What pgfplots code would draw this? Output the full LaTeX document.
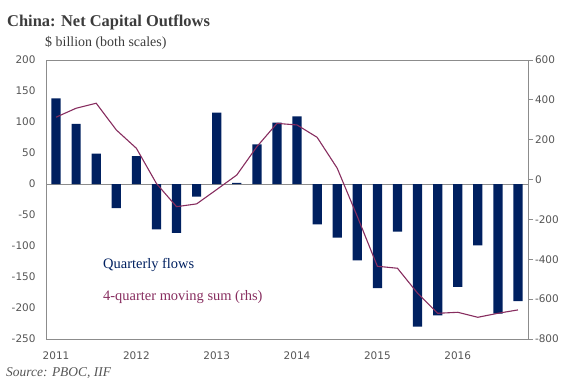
\documentclass[border=0pt]{standalone}
\usepackage{pgfplots}
\pgfplotsset{compat=1.18}
\usepackage{fontspec}
\setmainfont{Liberation Serif}
\newfontfamily\tickfont{DejaVu Sans}
\definecolor{navy}{RGB}{0,32,96}
\definecolor{plum}{RGB}{135,45,95}
\definecolor{axisgray}{RGB}{140,140,140}
\definecolor{ticktext}{RGB}{85,85,85}
\definecolor{titlegray}{RGB}{60,60,60}

\pgfplotstableread{
x y
0 138
1 97
2 49
3 -39
4 45
5 -73
6 -79
7 -20.5
8 115
9 2
10 64
11 99
12 109
13 -65
14 -86.5
15 -123
16 -168
17 -77
18 -230
19 -212
20 -166
21 -99
22 -209
23 -189
}\flows

\pgfplotstableread{
x y
0 313
1 358
2 383
3 249
4 157
5 -20
6 -136
7 -122
8 -50
9 23
10 165
11 282
12 274
13 212
14 57
15 -185
16 -435
17 -445
18 -570
19 -671
20 -666
21 -691
22 -671
23 -654
}\movsum

\begin{document}
\begin{tikzpicture}[x=1bp,y=1bp]
\useasboundingbox (0,0) rectangle (571,382);
\begin{axis}[
  at={(46bp,43bp)}, anchor=south west, scale only axis,
  width=482bp, height=279bp,
  xmin=-0.5, xmax=23.5, ymin=-250, ymax=200,
  ytick={-250,-200,...,200},
  xtick={0,4,8,12,16,20}, xticklabels={2011,2012,2013,2014,2015,2016},
  xtick pos=bottom, ytick pos=left,
  major tick length=0pt,
  axis line style={axisgray, line width=0.8bp},
  tick label style={font=\tickfont\fontsize{10.5}{12}\selectfont, text=ticktext},
  /pgf/number format/assume math mode=true,
  yticklabel style={anchor=east, xshift=-7bp},
  xticklabel style={anchor=north, yshift=-9bp},
  clip=false,
]
\addplot[axisgray, line width=0.8bp, forget plot] coordinates {(-0.5,0) (23.5,0)};
\addplot[ybar, bar width=0.46, fill=navy, draw=none] table[x=x,y=y] {\flows};
\end{axis}
\begin{axis}[
  at={(46bp,43bp)}, anchor=south west, scale only axis,
  width=482bp, height=279bp,
  xmin=-0.5, xmax=23.5, ymin=-800, ymax=600,
  ytick={-800,-600,...,600},
  axis x line=none, axis y line*=right,
  axis line style={axisgray, line width=0.8bp},
  tick align=outside, major tick length=5bp,
  tick style={axisgray, line width=0.8bp},
  tick label style={font=\tickfont\fontsize{10.5}{12}\selectfont, text=ticktext},
  /pgf/number format/assume math mode=true,
  yticklabel style={anchor=west, xshift=-1.5bp},
  clip=false,
]
\addplot[plum, line width=1.1bp] table[x=x,y=y] {\movsum};
\end{axis}
\node[anchor=base west, inner sep=0pt, text=titlegray, font=\bfseries\fontsize{16.5}{18}\selectfont] at (7,355.5) {China: Net Capital Outflows};
\node[anchor=base west, inner sep=0pt, text=titlegray, font=\fontsize{14}{16}\selectfont] at (45,335.5) {\$ billion (both scales)};
\node[anchor=base west, inner sep=0pt, text=navy, font=\fontsize{14.5}{16}\selectfont] at (103,114) {Quarterly flows};
\node[anchor=base west, inner sep=0pt, text=plum, font=\fontsize{14.5}{16}\selectfont] at (103,81.5) {4-quarter moving sum (rhs)};
\node[anchor=base west, inner sep=0pt, text=ticktext, font=\itshape\fontsize{13.5}{15}\selectfont] at (6,6) {Source: PBOC, IIF};
\end{tikzpicture}
\end{document}
